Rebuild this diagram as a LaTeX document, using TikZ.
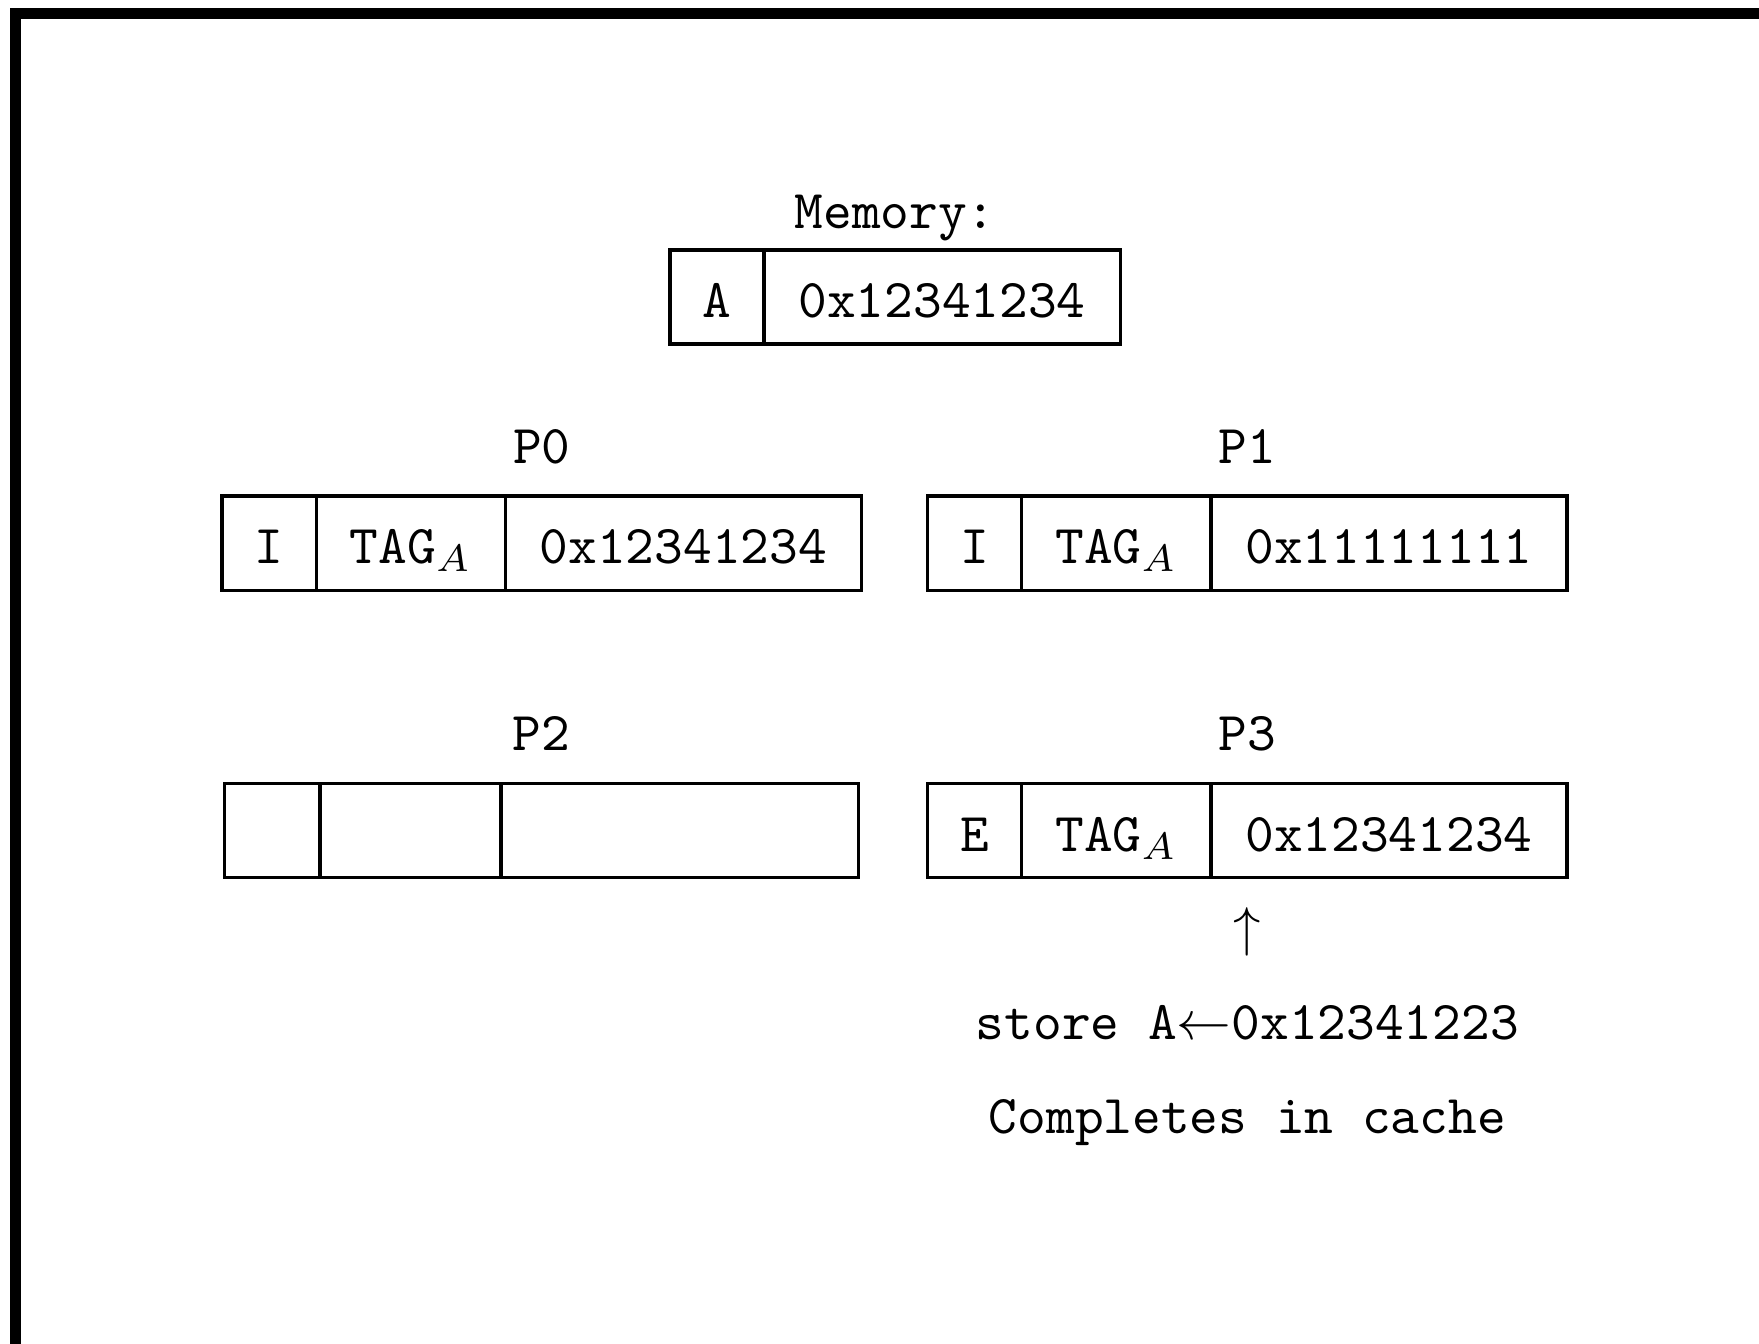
\documentclass[tikz,border=0pt]{standalone}
\usepackage{amsmath}
\usepackage{tikz}
\usetikzlibrary{positioning,fit}

\begin{document}
\begin{tikzpicture}[every node/.style={font=\ttfamily}]
\tikzset{
  cell/.style={draw, line width=0.6pt, outer sep=0pt, inner sep=0pt, minimum height=17.2pt, text height=7.4pt, text depth=0pt},
  statecell/.style={cell, minimum width=17.2pt},
  tagcell/.style={cell, minimum width=34.6pt},
  valcell/.style={cell, minimum width=65.1pt},
  row/.style={inner sep=0pt, outer sep=0pt},
  frame/.style={line width=2pt}
}
\useasboundingbox (0,0) rectangle (321.6pt,-245.7pt);
\draw[frame] (2.83pt,-260pt) |- (330pt,-2.47pt);

% memory line
\node[statecell, anchor=west] (mema) at (122.5pt,-54.3pt) {A};
\node[valcell, right=0pt of mema] (memv) {0x12341234};
\node[row, fit=(mema)(memv)] (mem) {};
\node[above=4pt of mem, anchor=base] (memlbl) {Memory:};

% P0 and P1
\node[statecell, anchor=west] (p0s) at (40.6pt,-99.3pt) {I};
\node[tagcell, right=0pt of p0s] (p0t) {TAG$_A$};
\node[valcell, right=0pt of p0t] (p0v) {0x12341234};
\node[row, fit=(p0s)(p0v)] (p0) {};
\node[above=6pt of p0, anchor=base] (p0lbl) {P0};

\node[statecell, anchor=west] (p1s) at (169.6pt,-99.3pt) {I};
\node[tagcell, right=0pt of p1s] (p1t) {TAG$_A$};
\node[valcell, right=0pt of p1t] (p1v) {0x11111111};
\node[row, fit=(p1s)(p1v)] (p1) {};
\node[above=6pt of p1, anchor=base] (p1lbl) {P1};

% P2 (empty) and P3
\node[statecell, minimum width=17.4pt, anchor=west] (p2s) at (41.1pt,-151.9pt) {};
\node[tagcell, minimum width=33.1pt, right=0pt of p2s] (p2t) {};
\node[valcell, minimum width=65.3pt, right=0pt of p2t] (p2v) {};
\node[row, fit=(p2s)(p2v)] (p2) {};
\node[above=6pt of p2, anchor=base] (p2lbl) {P2};

\node[statecell, anchor=west] (p3s) at (169.6pt,-151.9pt) {E};
\node[tagcell, right=0pt of p3s] (p3t) {TAG$_A$};
\node[valcell, right=0pt of p3t] (p3v) {0x12341234};
\node[row, fit=(p3s)(p3v)] (p3) {};
\node[above=6pt of p3, anchor=base] (p3lbl) {P3};

% the store in P3
\node[below=12.4pt of p3, anchor=base] (up) {$\uparrow$};
\node[below=29.6pt of p3, anchor=base] (store) {store A$\leftarrow$0x12341223};
\node[below=46.7pt of p3, anchor=base] (done) {Completes in cache};
\end{tikzpicture}
\end{document}
